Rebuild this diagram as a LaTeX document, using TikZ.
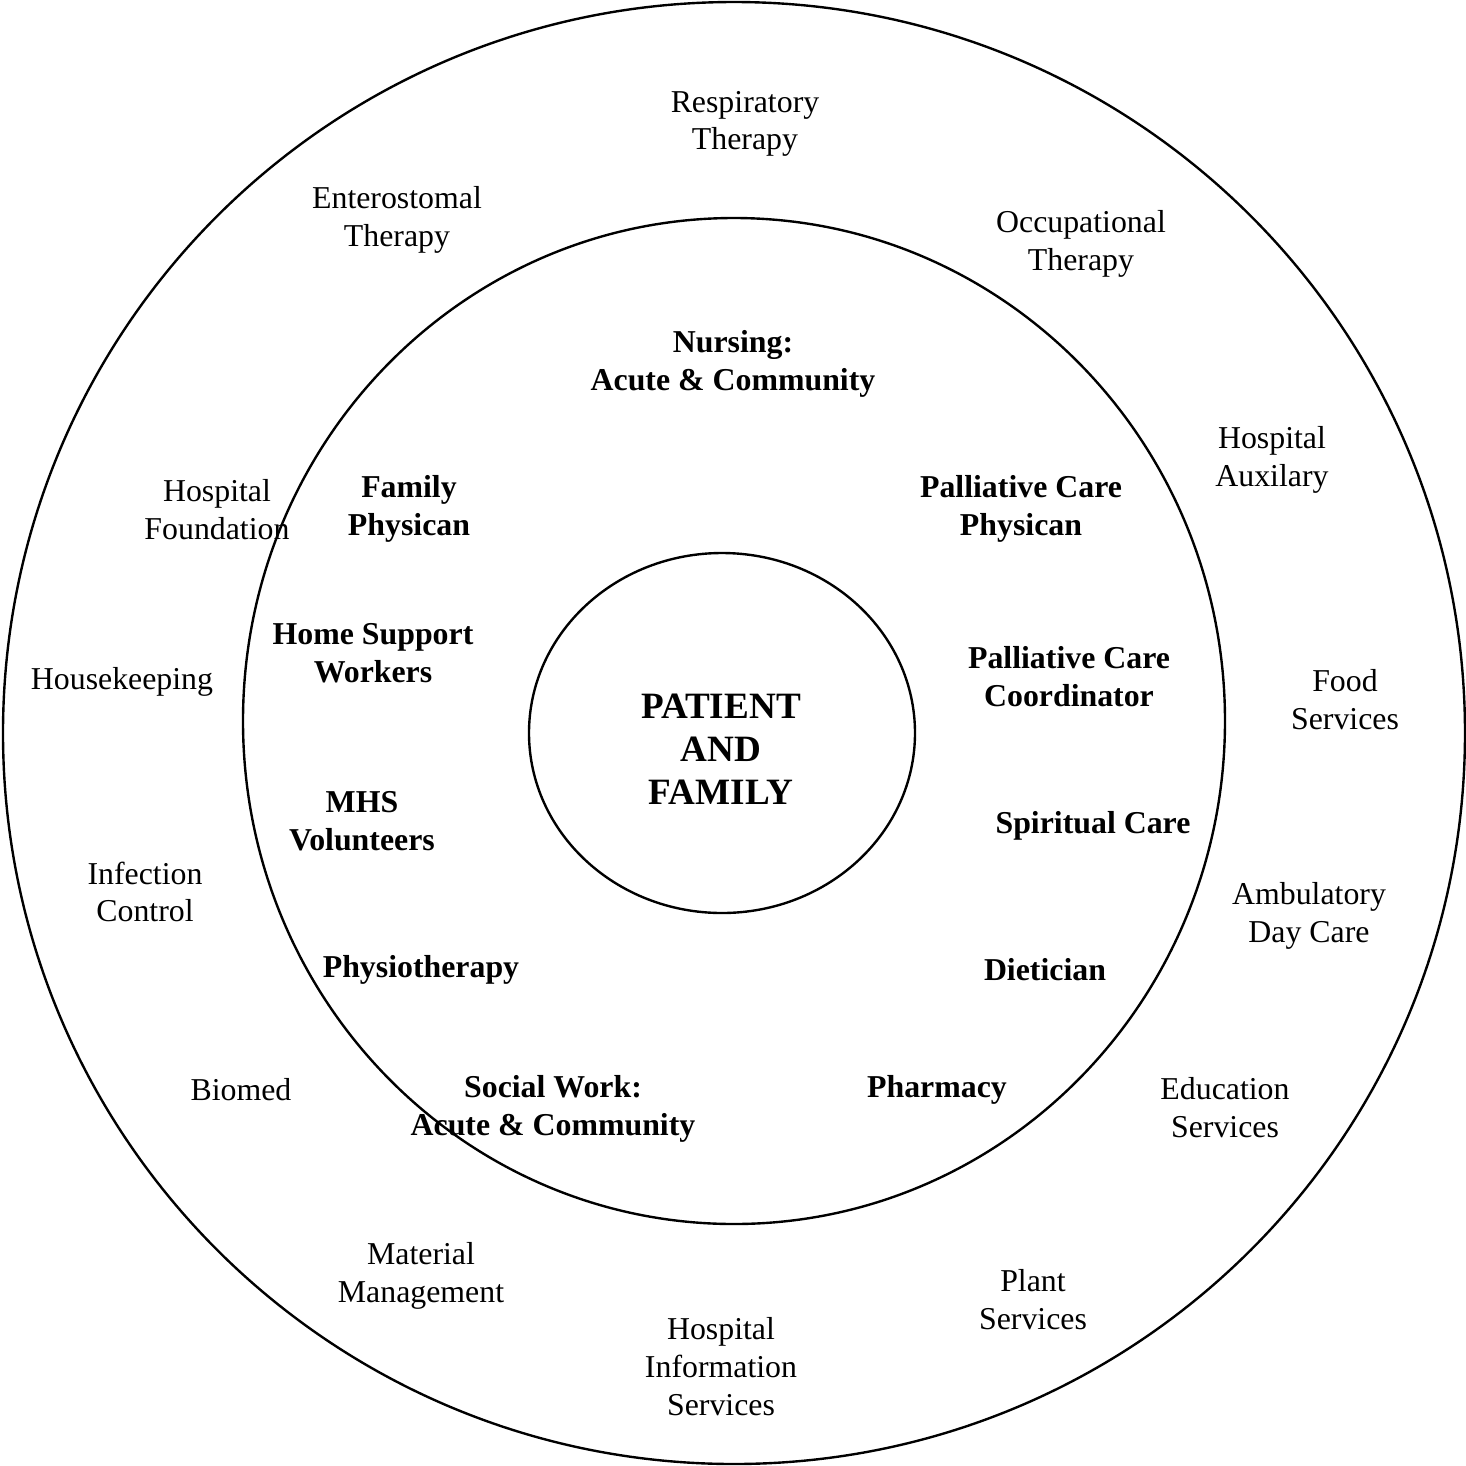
\documentclass[tikz,border=0pt]{standalone}
\usepackage{fontspec}
\setmainfont{Liberation Serif}
\usepackage{tikz}

\begin{document}
\begin{tikzpicture}[x=0.377pt, y=-0.377pt, line width=0.9pt,
    dept/.style={align=center,yshift=-1.1pt,font=\fontsize{12}{14.3}\selectfont},
    team/.style={align=center,yshift=-1.1pt,font=\fontsize{12}{14.3}\selectfont\bfseries},
    core/.style={align=center,font=\fontsize{14}{16.2}\selectfont\bfseries}]
  \useasboundingbox (0,0) rectangle (1466,1466);
  % the three rings
  \draw (734,733) ellipse [x radius=731, y radius=731];
  \draw (734,721) ellipse [x radius=491, y radius=503];
  \draw (722,733) ellipse [x radius=193, y radius=180];
  \node[core] at (721,749) (pf) {PATIENT\\AND\\FAMILY};
  % hospital services, outer ring
  \node[dept] at (745,121) (resp) {Respiratory\\Therapy};
  \node[dept] at (397,217) (ent) {Enterostomal\\Therapy};
  \node[dept] at (1081,241) (occ) {Occupational\\Therapy};
  \node[dept] at (1272,457) (aux) {Hospital\\Auxilary};
  \node[dept] at (217,507) (fdn) {Hospital\\Foundation};
  \node[dept] at (122,679) (hk) {Housekeeping};
  \node[dept] at (1345,697) (food) {Food\\Services};
  \node[dept] at (145,889) (inf) {Infection\\Control};
  \node[dept] at (1309,913) (amb) {Ambulatory\\Day Care};
  \node[dept] at (241,1087) (bio) {Biomed};
  \node[dept] at (1225,1105) (edu) {Education\\Services};
  \node[dept] at (421,1273) (mat) {Material\\Management};
  \node[dept] at (1033,1297) (plant) {Plant\\Services};
  \node[dept] at (721,1364) (his) {Hospital\\Information\\Services};
  % care team, middle ring
  \node[team] at (733,361) (nurs) {Nursing:\\Acute \& Community};
  \node[team] at (409,506) (fam) {Family\\Physican};
  \node[team] at (1021,506) (pcp) {Palliative Care\\Physican};
  \node[team] at (373,650) (home) {Home Support\\Workers};
  \node[team] at (1069,674) (pcc) {Palliative Care\\Coordinator};
  \node[team] at (362,818) (mhs) {MHS\\Volunteers};
  \node[team] at (1093,823) (spir) {Spiritual Care};
  \node[team] at (421,967) (phys) {Physiotherapy};
  \node[team] at (1045,967) (diet) {Dietician};
  \node[team] at (553,1106) (sw) {Social Work:\\Acute \& Community};
  \node[team] at (937,1087) (pharm) {Pharmacy};
\end{tikzpicture}
\end{document}
